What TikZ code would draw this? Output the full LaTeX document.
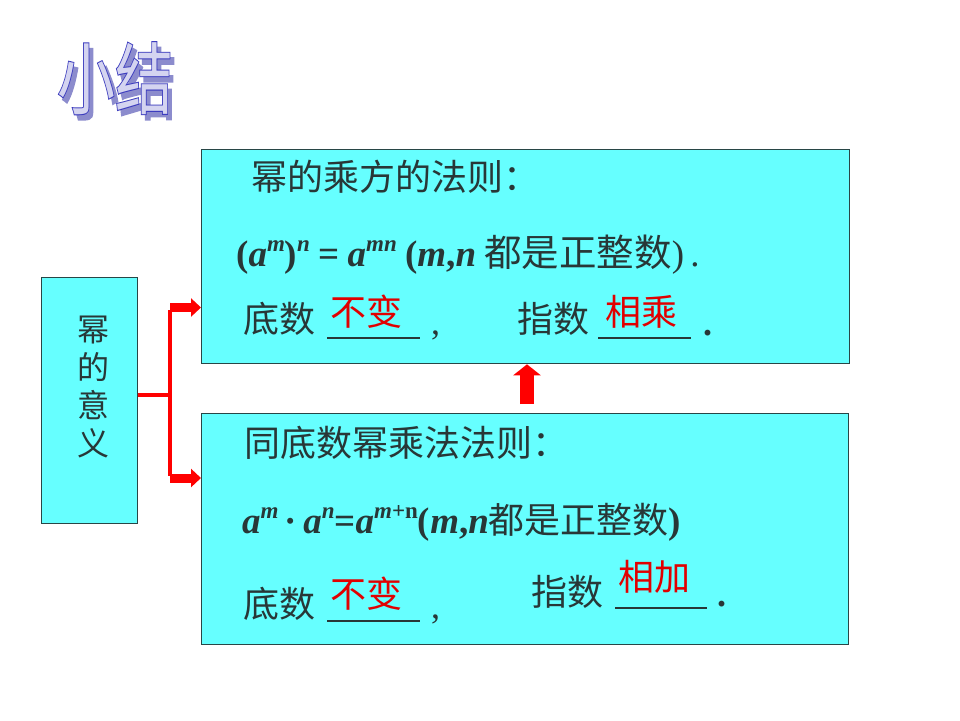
\documentclass[tikz,border=0pt]{standalone}
\usepackage{fontspec}
\setmainfont{Noto Sans CJK SC}
\newfontfamily\tnr{Liberation Serif}
\newfontfamily\ttlfont{Noto Sans CJK SC}
\newfontfamily\ttlout[FakeBold=2.5]{Noto Sans CJK SC}
\usetikzlibrary{arrows.meta}
\definecolor{boxfill}{RGB}{102,255,255}
\definecolor{boxline}{RGB}{40,70,70}
\definecolor{txt}{RGB}{40,55,55}
\definecolor{ared}{RGB}{255,0,0}
\definecolor{tred}{RGB}{225,0,0}
\definecolor{ttlfill}{RGB}{212,212,240}
\definecolor{ttledge}{RGB}{60,60,190}
\definecolor{ttlshadow}{RGB}{140,140,205}
\newcommand{\bi}[1]{{\tnr\bfseries\itshape #1}}
\newcommand{\bu}[1]{{\tnr\bfseries #1}}
\newcommand{\sups}[1]{\raisebox{0.4em}{\fontsize{23}{23}\selectfont\tnr\bfseries\itshape #1}}
\newcommand{\supu}[1]{\raisebox{0.4em}{\fontsize{23}{23}\selectfont\tnr\bfseries #1}}
\newcommand{\cjkf}[1]{{\fontsize{36}{36}\selectfont #1}}
\newcommand{\cjkg}[1]{{\fontsize{37.5}{37.5}\selectfont #1}}
\newcommand{\ttltext}{\scalebox{1}[1.35]{\rlap{\hspace{4pt}\raisebox{-4pt}{\color{ttlshadow}\ttlout 小结}}\rlap{\color{ttledge}\ttlout 小结}{\color{ttlfill}\ttlfont 小结}}}
\begin{document}
\begin{tikzpicture}[x=1pt,y=-1pt,
  panel/.style={draw=boxline, line width=1.3pt, fill=boxfill, inner sep=0},
  lbl/.style={anchor=base west, inner sep=0, text=txt, font=\fontsize{36}{36}\selectfont},
  ans/.style={anchor=base west, inner sep=0, text=tred, font=\fontsize{36}{36}\selectfont},
  frm/.style={anchor=base west, inner sep=0, text=txt, font=\fontsize{37}{37}\selectfont},
  blank/.style={draw=txt, line width=1.6pt},
  branch/.style={draw=ared, line width=3.5pt},
  blockarrow/.style={draw=ared, line width=9pt, -{Triangle[length=10pt,width=18pt]}},
  uparrow/.style={draw=ared, line width=14pt, -{Triangle[length=11pt,width=27pt]}},
  ttl/.style={inner sep=0, font=\fontsize{58}{58}\selectfont},
]
\useasboundingbox (0,0) rectangle (960,720);
\fill[white] (0,0) rectangle (960,720);

% title
\node[ttl] (title) at (115,81) {\ttltext};

% boxes
\node[panel, minimum width=648, minimum height=214, anchor=north west] (top) at (201,149) {};
\node[panel, minimum width=647, minimum height=231, anchor=north west] (bot) at (201,413) {};
\node[panel, minimum width=96, minimum height=246, anchor=north west] (left) at (41,277) {};
\node[inner sep=0, text=txt, align=center, font=\fontsize{32}{38}\selectfont] (lt) at (93,387) {幂\\的\\意\\义};

% branch connectors
\coordinate (bx) at (170,395);
\coordinate (bt) at (170,307.5);
\coordinate (bb) at (170,478);
\draw[branch] (left.east |- bx) -- (bx);
\draw[branch] ([yshift=-2pt]bt) -- ([yshift=2pt]bb);
\draw[blockarrow] (bt) -- (top.west |- bt);
\draw[blockarrow] (bb) -- (bot.west |- bb);
\coordinate (us) at (527,404);
\draw[uparrow] (us) -- (us |- top.south);

% top box text
\node[lbl] (t1) at (251,190) {幂的乘方的法则：};
\node[frm] (f1) at (236,266) {\bu{(}\bi{a}\sups{m}\bu{)}\sups{n} \bu{=} \bi{a}\sups{mn} \bu{(}\bi{m}\bu{,}\bi{n} \cjkg{都是正整数}{\tnr )\,.}};
\node[lbl] (d1) at (243,332) {底数};
\draw[blank] (327,338) -- (420,338);
\node[ans] (a1) at (330,325.5) {不变};
\node[lbl] (c1) at (431,334) {\tnr ,};
\node[lbl] (z1) at (517,332) {指数};
\draw[blank] (598,338) -- (691,338);
\node[ans] (a2) at (605,325) {相乘};
\node[lbl] (p1) at (703,335) {\tnr\bfseries .};

% bottom box text
\node[lbl] (t2) at (244,456) {同底数幂乘法法则：};
\node[frm] (f2) at (242,533) {\bi{a}\sups{m}\bu{\,·\,}\bi{a}\sups{n}\bu{=}\bi{a}\sups{m}\supu{+n}\bu{(}\bi{m}\bu{,}\bi{n}\cjkf{都是正整数}\bu{)}};
\node[lbl] (d2) at (243,617) {底数};
\draw[blank] (327,621) -- (420,621);
\node[ans] (a3) at (330,607) {不变};
\node[lbl] (c2) at (431,618) {\tnr ,};
\node[lbl] (z2) at (531,605) {指数};
\draw[blank] (615,608) -- (707,608);
\node[ans] (a4) at (618,590) {相加};
\node[lbl] (p2) at (717,606) {\tnr\bfseries .};
\end{tikzpicture}
\end{document}
